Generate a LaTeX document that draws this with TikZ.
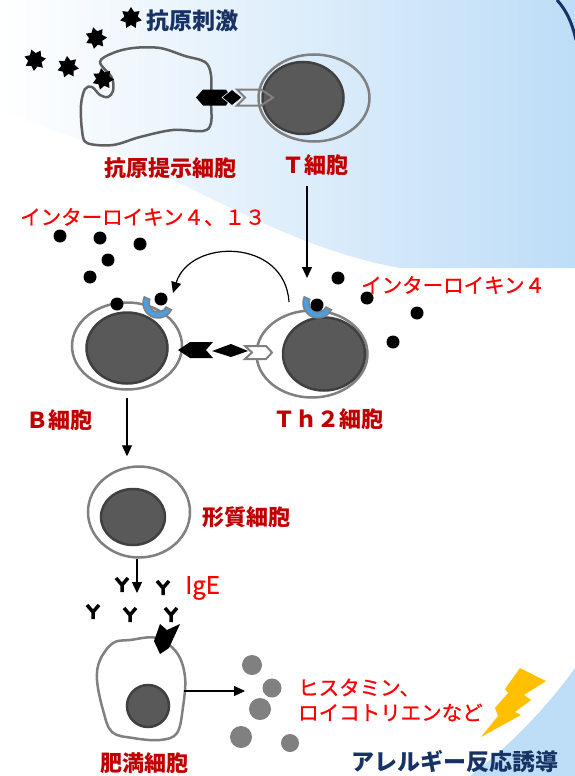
\documentclass[tikz,border=0pt]{standalone}
\usepackage{fontspec}
\usepackage{tikz}
\usetikzlibrary{arrows.meta,shapes.geometric,calc}
\newfontfamily\jp{Noto Sans CJK JP}
\newfontfamily\jpsemi{Noto Sans CJK JP}[FakeBold=0.8]
\definecolor{bgblue}{RGB}{190,221,247}
\definecolor{navy}{RGB}{23,50,100}
\definecolor{cellred}{RGB}{192,0,0}
\definecolor{ilred}{RGB}{255,0,0}
\definecolor{cellgray}{RGB}{128,128,128}
\definecolor{apcgray}{RGB}{96,96,96}
\definecolor{nucgray}{RGB}{89,89,89}
\definecolor{nucedge}{RGB}{64,64,64}
\definecolor{rcpblue}{RGB}{74,158,225}
\definecolor{boltyellow}{RGB}{255,192,0}
\tikzset{
  cell/.style={ellipse, draw=cellgray, line width=2.5pt, inner sep=0},
  nucleus/.style={ellipse, draw=nucedge, fill=nucgray, line width=2.5pt, inner sep=0},
  cellname/.style={font=\jp\bfseries\fontsize{22}{26}\selectfont, text=cellred, inner sep=0},
  factor/.style={font=\jpsemi\fontsize{20.5}{25}\selectfont, text=ilred, inner sep=0},
  headline/.style={font=\jp\bfseries\fontsize{23}{27}\selectfont, text=navy, inner sep=0},
  antigen/.style={star, star points=7, star point ratio=1.6, fill=black, minimum size=22pt, inner sep=0},
  receptor/.style={fill=rcpblue, draw=cellgray, line width=1.5pt},
  arr/.style={-{Triangle[length=11pt,width=10pt]}, line width=1.2pt},
  ige/.style={line width=3.5pt},
  granule/.style={fill=cellgray},
}

\begin{document}
\begin{tikzpicture}[x=1pt,y=-1pt]
\useasboundingbox (0,0) rectangle (575,776);
\fill[white] (0,0) rectangle (575,776);
% backdrop
\shade[left color=white,right color=bgblue] (0,0) -- (575,0) -- (575,268) -- (400,268)
  .. controls (300,250) and (220,200) .. (120,155) -- (0,110) -- cycle;
\fill[bgblue] (470,776) .. controls (505,750) and (545,710) .. (575,668) -- (575,776) -- cycle;
\draw[navy, line width=3pt] (557,0) .. controls (566,10) and (572,22) .. (576,40);

% antigen presenting cell
\draw[apcgray, line width=2.5pt] plot[smooth cycle, tension=0.55] coordinates {
  (100,62) (113,53) (133,48) (160,48) (185,56) (205,62) (211,75) (211,100) (211,123)
  (203,131) (173,130) (140,137) (113,145) (87,143) (82,130) (81,105) (85,89)
  (92,87) (100,95) (108,97) (113,91) (112,78)};
\foreach \x/\y/\a [count=\i] in {131/18/0, 96/38/15, 68/67/5, 35/60/20, 103/79/10}
  \node[antigen, rotate=\a] (ag\i) at (\x,\y) {};

% cells
\node[cell, minimum width=111pt, minimum height=87pt] (tcell) at (314,98) {};
\node[nucleus, minimum width=81pt, minimum height=72pt] (tnuc) at (303,98) {};
\node[cell, minimum width=110pt, minimum height=87pt] (bcell) at (127,346) {};
\node[nucleus, minimum width=81pt, minimum height=71pt] (bnuc) at (127,348) {};
\node[cell, minimum width=111pt, minimum height=87pt] (th2) at (312,354) {};
\node[nucleus, minimum width=82pt, minimum height=73pt] (th2nuc) at (324,354) {};
\node[cell, minimum width=102pt, minimum height=91pt] (pcell) at (139,512) {};
\node[nucleus, minimum width=64pt, minimum height=56pt] (pnuc) at (133,517) {};
\draw[cellgray, line width=2.5pt] plot[smooth cycle, tension=0.6] coordinates {
  (130,640) (157,638) (177,653) (185,677) (183,707) (177,733) (160,740)
  (133,738) (112,732) (103,710) (97,680) (100,660) (113,643)};
\node[nucleus, minimum width=42pt, minimum height=42pt] (mnuc) at (148,706) {};

% antigen presentation to T cell
\fill (196,97.5) -- (203,89.5) -- (226,89.5) -- (231,97.5) -- (226,105.5) -- (203,105.5) -- cycle;
\filldraw[draw=white, line width=.6pt] (222,97.5) -- (232,89.5) -- (242,97.5) -- (232,105.5) -- cycle;
\draw[cellgray, line width=2pt] (237,89.5) -- (261,89.5) -- (273,97.5) -- (261,105.5) -- (237,105.5) -- (245,97.5) -- cycle;

% B cell - Th2 contact
\fill (178,350) -- (190,342) -- (213,342) -- (206,350) -- (213,358) -- (190,358) -- cycle;
\fill (212,351) -- (231,344) -- (248,351) -- (231,357) -- cycle;
\filldraw[fill=white, draw=cellgray, line width=2pt] (245,346) -- (266,346) -- (272,352.5) -- (266,359) -- (245,359) -- (252,352.5) -- cycle;

% IL-4 receptors
\filldraw[receptor] (158,303) ++(27:15) arc[start angle=27, end angle=204, radius=15]
  -- ++(204:-6) arc[start angle=204, end angle=27, radius=9] -- cycle;
\filldraw[receptor] (318,303) ++(27:15) arc[start angle=27, end angle=204, radius=15]
  -- ++(204:-6) arc[start angle=204, end angle=27, radius=9] -- cycle;

% interleukins
\foreach \x/\y in {60/236, 100/238, 140/244, 108/260, 90/277, 117/304, 161/299,
  338/278, 367/298, 417/313, 393/342, 317/305}
  \fill (\x,\y) circle (6.5);

% IgE and its receptor on the mast cell
\foreach \x/\y in {122/585, 163/588, 93/612, 130/615, 171/615}
  \draw[ige] (\x-6,\y-7) -- (\x,\y) -- (\x+6,\y-7) (\x,\y) -- (\x,\y+7);
\fill (160,624) -- (167,630) -- (180,624) -- (169,648) -- (160,654) -- (154,641) -- cycle;

% mediators
\foreach \x/\y/\r in {252/665/10, 272/688/9.5, 260/709/11, 241/737/11, 290/743/9}
  \fill[granule] (\x,\y) circle (\r);
\fill[boltyellow] (520,668) -- (546,681) -- (524,695) -- (531,700) -- (515,712) -- (521,715)
  -- (481,737) -- (498,716) -- (495,708) -- (508,693) -- (505,689) -- cycle;

% labels
\node[headline, anchor=west] (stim) at (146,21) {抗原刺激};
\node[cellname] (apclab) at (170,168) {抗原提示細胞};
\node[cellname] (tlab) at (315,165) {Ｔ細胞};
\node[factor, anchor=west] (il413) at (20,217) {インターロイキン４、１３};
\node[factor, anchor=west] (il4) at (361,285) {インターロイキン４};
\node[cellname] (blab) at (60,420) {Ｂ細胞};
\node[cellname] (th2lab) at (328,419) {Ｔｈ２細胞};
\node[cellname, anchor=west] (pclab) at (202,517) {形質細胞};
\node[factor, anchor=west, font=\jpsemi\fontsize{24}{28}\selectfont] (igelab) at (185,588) {IgE};
\node[factor, anchor=west, align=left] (medlab) at (298,700) {ヒスタミン、\\ロイコトリエンなど};
\node[cellname] (mclab) at (144,763) {肥満細胞};
\node[headline, anchor=west] (allergy) at (351,762) {アレルギー反応誘導};

% arrows
\coordinate (tin) at (307,278);
\coordinate (th2out) at (289,302);
\coordinate (bin) at (173,293);
\coordinate (igein) at (137,593);
\coordinate (mastedge) at (184,691);
\coordinate (medin) at (245,691);
\draw[arr, shorten <=10pt] (tlab.south -| tin) -- (tin);
\draw[arr] (th2out) .. controls (285,238) and (190,238) .. (bin);
\draw[arr, shorten <=7pt, shorten >=9pt] (bcell.south) -- (bcell.south |- pcell.north);
\draw[arr] (pcell.south -| igein) -- (igein);
\draw[arr] (mastedge) -- (medin);
\end{tikzpicture}
\end{document}
